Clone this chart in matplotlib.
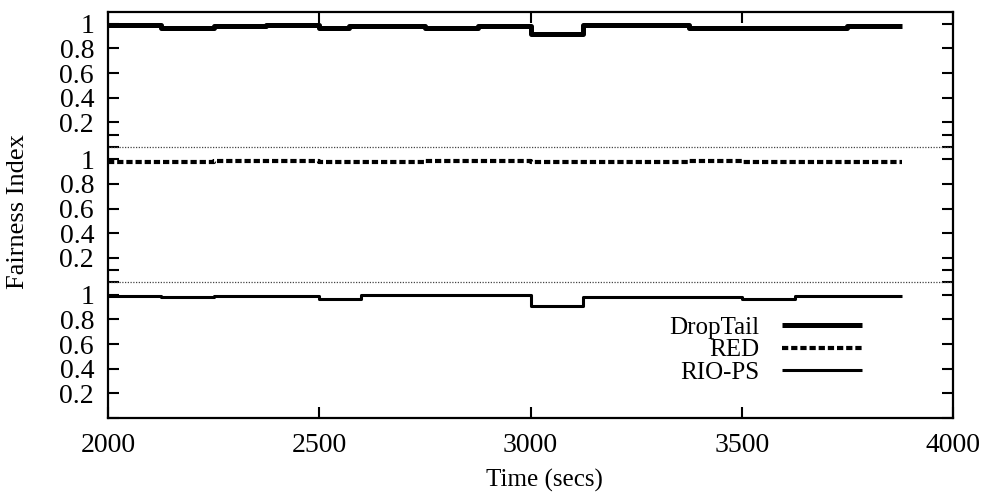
import numpy as np
import matplotlib
matplotlib.use('Agg')
import matplotlib.pyplot as plt

plt.rcParams['font.family'] = ['Liberation Serif', 'DejaVu Serif']

# step data (time where a level starts, fairness value)
droptail_t = [2000, 2125, 2250, 2375, 2500, 2570, 2750, 2875, 3000, 3125, 3375, 3750, 3880]
droptail_v = [0.99, 0.97, 0.98, 0.99, 0.97, 0.98, 0.97, 0.98, 0.92, 0.99, 0.97, 0.98, 0.98]

red_t = [2000, 2250, 2500, 2750, 3000, 3125, 3375, 3500, 3750, 3880]
red_v = [0.98, 0.985, 0.98, 0.985, 0.975, 0.98, 0.985, 0.98, 0.98, 0.98]

riops_t = [2000, 2125, 2250, 2500, 2600, 3000, 3125, 3500, 3625, 3880]
riops_v = [0.99, 0.98, 0.99, 0.97, 0.995, 0.91, 0.985, 0.97, 0.99, 0.99]

# each panel is stacked on the same axis with its own offset
panel_height = 1.1
offsets = {'RIO-PS': 0.0, 'RED': 1.1, 'DropTail': 2.2}
tick_vals = [0.2, 0.4, 0.6, 0.8, 1.0]
tick_labels = ['0.2', '0.4', '0.6', '0.8', '1']
x_ticks = [2000, 2500, 3000, 3500, 4000]

fig = plt.figure(figsize=(9.87, 5.01), dpi=100)
ax = fig.add_axes([0.1094, 0.1657, 0.8562, 0.8113])

ax.step(droptail_t, np.array(droptail_v) + offsets['DropTail'], where='post',
        color='black', lw=3.6, solid_capstyle='butt', label='DropTail')
ax.step(red_t, np.array(red_v) + offsets['RED'], where='post',
        color='black', lw=3.0, dashes=(1.5, 0.7), label='RED')
ax.step(riops_t, np.array(riops_v) + offsets['RIO-PS'], where='post',
        color='black', lw=2.2, solid_capstyle='butt', label='RIO-PS')

# dotted separators between the panels
for off in [offsets['RED'], offsets['DropTail']]:
    ax.axhline(off, color='#444444', lw=0.9, ls=(0, (1, 1.2)))

ax.set_xlim(2000, 4000)
ax.set_ylim(0, 3 * panel_height)

# y ticks repeated for every panel
yt, yl = [], []
for off in [0.0, 1.1, 2.2]:
    for v, lab in zip(tick_vals, tick_labels):
        yt.append(off + v)
        yl.append(lab)
ax.set_yticks(yt)
ax.set_yticklabels(yl)
ax.set_yticks([0.0, 1.1, 1.2, 2.2, 2.3], minor=True)
ax.set_xticks(x_ticks)

ax.tick_params(axis='both', which='both', direction='in', top=True, right=True,
               length=8, width=1.5)
ax.tick_params(axis='y', labelsize=20, pad=10)
ax.tick_params(axis='x', labelsize=20, pad=11)
for s in ax.spines.values():
    s.set_linewidth(1.6)

ax.set_xlabel('Time (secs)', fontsize=18)
ax.xaxis.set_label_coords(0.517, -0.125)
ax.set_ylabel('Fairness Index', fontsize=19)
ax.yaxis.set_label_coords(-0.094, 0.509)

leg = ax.legend(loc='upper right', bbox_to_anchor=(0.892, 0.25), frameon=False,
                markerfirst=False, fontsize=18, handlelength=3.2, handletextpad=0.9,
                labelspacing=0.0, borderpad=0, borderaxespad=0)
# right-align the legend texts like gnuplot does
for col in leg._legend_handle_box.get_children():
    col.align = 'right'

fig.savefig('out.png', dpi=100)
